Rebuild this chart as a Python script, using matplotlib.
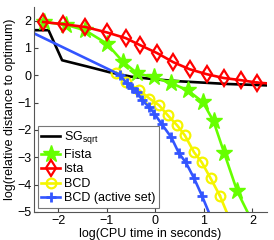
import numpy as np
import matplotlib.pyplot as plt
plt.rcParams['font.family'] = ['Liberation Sans', 'DejaVu Sans']
plt.rcParams['font.size'] = 8.5
plt.rcParams['mathtext.fontset'] = 'custom'
plt.rcParams['mathtext.rm'] = 'Liberation Sans'
plt.rcParams['mathtext.it'] = 'Liberation Sans'

# log10 cpu time / log10 relative distance
sg_x = [-2.6, -2.2, -1.92, -1.4, -0.94, -0.5, 0.0, 0.5, 1.0, 1.5, 2.0, 2.3]
sg_y = [1.65, 1.65, 0.55, 0.32, 0.11, -0.05, -0.15, -0.22, -0.27, -0.32, -0.35, -0.37]

fista_x = [-2.3, -1.85, -1.45, -1.0, -0.67, -0.37, -0.02, 0.33, 0.67, 0.98, 1.2, 1.42, 1.69, 1.9]
fista_y = [1.95, 1.85, 1.65, 1.16, 0.5, 0.07, -0.08, -0.29, -0.55, -0.98, -1.68, -2.84, -4.25, -5.0]

ista_x = [-2.31, -1.9, -1.45, -1.0, -0.61, -0.31, 0.04, 0.37, 0.71, 1.06, 1.41, 1.77, 2.1, 2.35]
ista_y = [1.95, 1.87, 1.77, 1.57, 1.36, 1.1, 0.81, 0.48, 0.22, 0.04, -0.1, -0.18, -0.27, -0.3]

bcd_x = [-0.8, -0.6, -0.33, -0.12, 0.08, 0.26, 0.45, 0.61, 0.8, 0.96, 1.14, 1.33, 1.47]
bcd_y = [0.1, -0.25, -0.55, -0.85, -1.1, -1.47, -1.83, -2.2, -2.82, -3.19, -3.77, -4.4, -5.0]

act_x = [-2.6, -0.73, -0.59, -0.48, -0.37, -0.27, -0.12, -0.02, 0.13, 0.33, 0.49, 0.63, 0.8, 0.96, 1.1]
act_y = [1.62, 0.02, -0.3, -0.45, -0.62, -0.92, -1.17, -1.4, -1.78, -2.27, -2.86, -3.19, -3.77, -4.4, -5.0]

fig = plt.figure(figsize=(2.74, 2.4), dpi=100)
ax = fig.add_axes([0.124, 0.117, 0.85, 0.854])

lw = 1.9
ax.plot(sg_x, sg_y, color='k', lw=lw, label='SG$_{\\mathrm{sqrt}}$')
ax.plot(fista_x[:-1], fista_y[:-1], color='#66ff00', lw=lw, marker='*', ms=12.5, label='Fista')
ax.plot(fista_x[-2:], fista_y[-2:], color='#66ff00', lw=lw)
ax.plot(ista_x[:-1], ista_y[:-1], color='red', lw=lw, marker='d', ms=8, mfc='none', mew=1.6, label='Ista')
ax.plot(ista_x[-2:], ista_y[-2:], color='red', lw=lw)
ax.plot(bcd_x[:-1], bcd_y[:-1], color='#f5f500', lw=lw, marker='o', ms=7, mfc='none', mew=1.6, label='BCD')
ax.plot(bcd_x[-2:], bcd_y[-2:], color='#f5f500', lw=lw)
ax.plot(act_x[1:-1], act_y[1:-1], color='#3355ff', lw=lw, marker='+', ms=7.5, mew=2, label='BCD (active set)')
ax.plot([act_x[0], act_x[1]], [act_y[0], act_y[1]], color='#3355ff', lw=lw)
ax.plot(act_x[-2:], act_y[-2:], color='#3355ff', lw=lw)

ax.set_xlim(-2.5, 2.3)
ax.set_ylim(-5, 2.5)
ax.set_xticks([-2, -1, 0, 1, 2])
ax.set_yticks([-5, -4, -3, -2, -1, 0, 1, 2])
ax.tick_params(direction='in', length=3, colors='#444444', labelcolor='k', pad=2, labelsize=9)
for s in ['top', 'right']:
    ax.spines[s].set_visible(False)
for s in ['left', 'bottom']:
    ax.spines[s].set_color('#555555')
ax.set_xlabel('log(CPU time in seconds)', labelpad=1, fontsize=9)
ax.set_ylabel('log(relative distance to optimum)', labelpad=1, fontsize=9)

leg = ax.legend(loc='lower left', bbox_to_anchor=(0.0, 0.0), frameon=True, fancybox=False,
                edgecolor='#555555', handlelength=1.5, handletextpad=0.3, labelspacing=0.2,
                borderpad=0.3, borderaxespad=0.3, fontsize=9)
leg.get_frame().set_linewidth(0.8)

plt.savefig('out.png', dpi=100)
